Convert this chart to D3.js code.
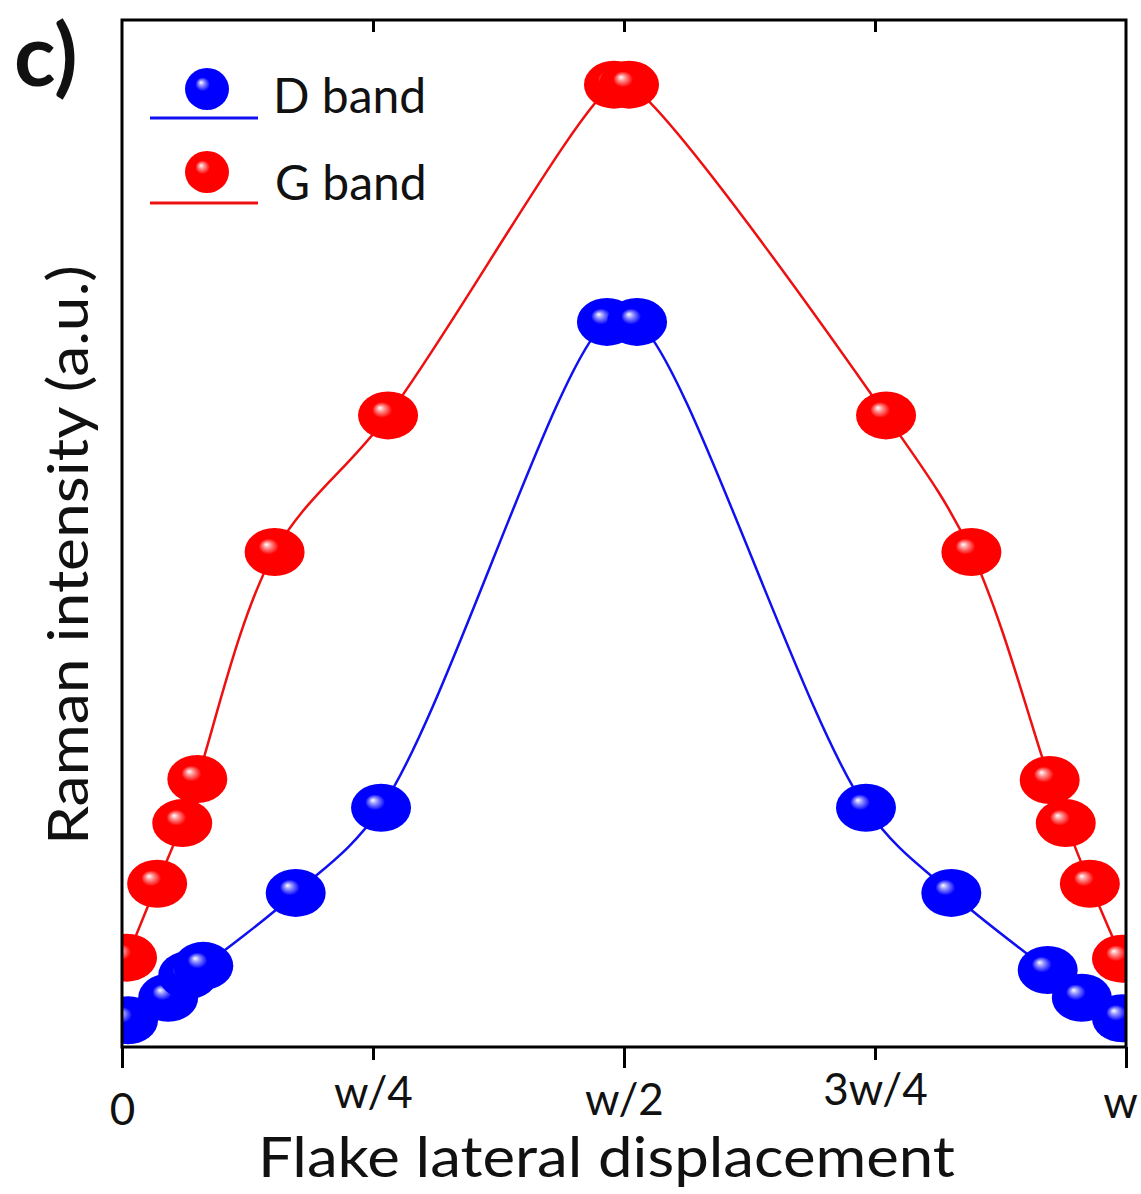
<!DOCTYPE html>
<html>
<head>
<meta charset="utf-8">
<script src="https://cdn.jsdelivr.net/npm/d3@7"></script>
<style>
  body { margin: 0; background: #fff; }
  text { font-family: Lato, "Open Sans", sans-serif; fill: #111; }
</style>
</head>
<body>
<div id="chart"></div>
<script>
// G band (red) - lateral position (fraction of w) and intensity (a.u.)
let gX = [0.005, 0.035, 0.060, 0.075, 0.152, 0.265, 0.490, 0.505, 0.761, 0.846, 0.924, 0.940, 0.964, 0.996];
let gY = [0.87, 1.59, 2.18, 2.61, 4.82, 6.15, 9.37, 9.37, 6.15, 4.82, 2.60, 2.18, 1.59, 0.86];

// D band (blue)
let dX = [0.006, 0.046, 0.066, 0.081, 0.173, 0.258, 0.483, 0.513, 0.741, 0.826, 0.922, 0.956, 0.996];
let dY = [0.26, 0.48, 0.70, 0.79, 1.50, 2.33, 7.06, 7.06, 2.33, 1.50, 0.75, 0.48, 0.28];

let tickVals = [0, 0.25, 0.5, 0.75, 1];
let tickLabels = ["0", "w/4", "w/2", "3w/4", "w"];
let seriesNames = ["D band", "G band"];

function ramanChart() {
    let margin = {top: 20, right: 15, bottom: 147, left: 122};
    let totalW = 1141, totalH = 1194;
    let width = totalW - margin.left - margin.right;
    let height = totalH - margin.top - margin.bottom;

    let svg = d3.select("#chart").append("svg")
        .attr("width", totalW)
        .attr("height", totalH);

    let defs = svg.append("defs");

    // shiny ball gradients
    function ballGradient(id, base, mid) {
        let g = defs.append("radialGradient")
            .attr("id", id)
            .attr("cx", "0.5").attr("cy", "0.5").attr("r", "0.55")
            .attr("fx", "0.36").attr("fy", "0.34");
        g.append("stop").attr("offset", "0").attr("stop-color", "#ffffff");
        g.append("stop").attr("offset", "0.12").attr("stop-color", mid);
        g.append("stop").attr("offset", "0.30").attr("stop-color", base);
        g.append("stop").attr("offset", "1").attr("stop-color", base);
    }
    ballGradient("ballRed", "#ff0000", "#ff9090");
    ballGradient("ballBlue", "#0000ff", "#9090ff");

    defs.append("clipPath").attr("id", "plotClip")
        .append("rect").attr("width", width).attr("height", height);

    let plot = svg.append("g")
        .attr("transform", "translate(" + margin.left + "," + margin.top + ")");

    let xScale = d3.scaleLinear().domain([0, 1]).range([0, width]);
    let yScale = d3.scaleLinear().domain([0, 10]).range([height, 0]);

    let gData = gX.map(function(x, i) { return {x: x, y: gY[i]}; });
    let dData = dX.map(function(x, i) { return {x: x, y: dY[i]}; });

    let line = d3.line()
        .x(function(d) { return xScale(d.x); })
        .y(function(d) { return yScale(d.y); })
        .curve(d3.curveCatmullRom.alpha(0.5));

    let inner = plot.append("g").attr("clip-path", "url(#plotClip)");

    let series = [
        {data: dData, color: "#1010f0", grad: "url(#ballBlue)"},
        {data: gData, color: "#ee1010", grad: "url(#ballRed)"}
    ];

    series.forEach(function(s) {
        inner.append("path")
            .datum(s.data)
            .attr("d", line)
            .attr("fill", "none")
            .attr("stroke", s.color)
            .attr("stroke-width", 2.5);
    });

    series.forEach(function(s) {
        inner.selectAll(null)
            .data(s.data)
            .enter()
            .append("ellipse")
            .attr("cx", function(d) { return xScale(d.x); })
            .attr("cy", function(d) { return yScale(d.y); })
            .attr("rx", 30)
            .attr("ry", 24)
            .attr("fill", s.grad);
    });

    /* frame */
    plot.append("rect")
        .attr("width", width).attr("height", height)
        .attr("fill", "none").attr("stroke", "#000").attr("stroke-width", 3);

    /* bottom axis */
    let xAxis = d3.axisBottom(xScale)
        .tickValues(tickVals)
        .tickFormat(function(d, i) { return tickLabels[i]; })
        .tickSize(20)
        .tickPadding(0);

    let gx = plot.append("g")
        .attr("transform", "translate(0," + height + ")")
        .call(xAxis);
    gx.select(".domain").remove();
    gx.selectAll(".tick line")
        .attr("stroke", "#000").attr("stroke-width", 3)
        .attr("y2", function(d, i) { return i % 2 ? 13 : 21; });
    let labelDy = [78, 61, 68, 58, 71];
    let labelDx = [0, 0, 0, 0, -6];
    gx.selectAll(".tick text")
        .attr("y", 0).attr("dy", 0)
        .attr("transform", function(d, i) { return "translate(" + labelDx[i] + "," + labelDy[i] + ")"; })
        .style("font-size", "44px")
        .style("font-family", "Lato, sans-serif")
        .attr("fill", "#111");

    /* top axis - inner ticks */
    let topAxis = d3.axisTop(xScale)
        .tickValues(tickVals.slice(1, 4))
        .tickFormat("")
        .tickSize(-12);
    let gt = plot.append("g").call(topAxis);
    gt.select(".domain").remove();
    gt.selectAll(".tick line").attr("stroke", "#000").attr("stroke-width", 3);

    /* axis titles */
    svg.append("text")
        .attr("x", 258)
        .attr("y", 1177)
        .attr("textLength", 697)
        .attr("lengthAdjust", "spacingAndGlyphs")
        .style("font-size", "57px")
        .text("Flake lateral displacement");

    svg.append("text")
        .attr("transform", "translate(88," + 845 + ") rotate(-90)")
        .attr("textLength", 580)
        .attr("lengthAdjust", "spacingAndGlyphs")
        .style("font-size", "57px")
        .text("Raman intensity (a.u.)");

    svg.append("text")
        .attr("x", 14).attr("y", 86)
        .style("font-size", "86px")
        .style("font-weight", "bold")
        .text("c)");

    /* legend */
    let legend = svg.append("g").attr("transform", "translate(150,0)");
    let legendY = [89, 172];
    let legendLineY = [118, 203];
    let legendTextY = [113, 200];
    [series[0], series[1]].forEach(function(s, i) {
        legend.append("line")
            .attr("x1", 0).attr("x2", 108)
            .attr("y1", legendLineY[i]).attr("y2", legendLineY[i])
            .attr("stroke", s.color).attr("stroke-width", 3);
        legend.append("ellipse")
            .attr("cx", 57).attr("cy", legendY[i])
            .attr("rx", 22).attr("ry", 21)
            .attr("fill", s.grad);
        legend.append("text")
            .attr("x", 123 + i * 2).attr("y", legendTextY[i])
            .style("font-size", "48px")
            .text(seriesNames[i]);
    });
}

ramanChart();
</script>
</body>
</html>
